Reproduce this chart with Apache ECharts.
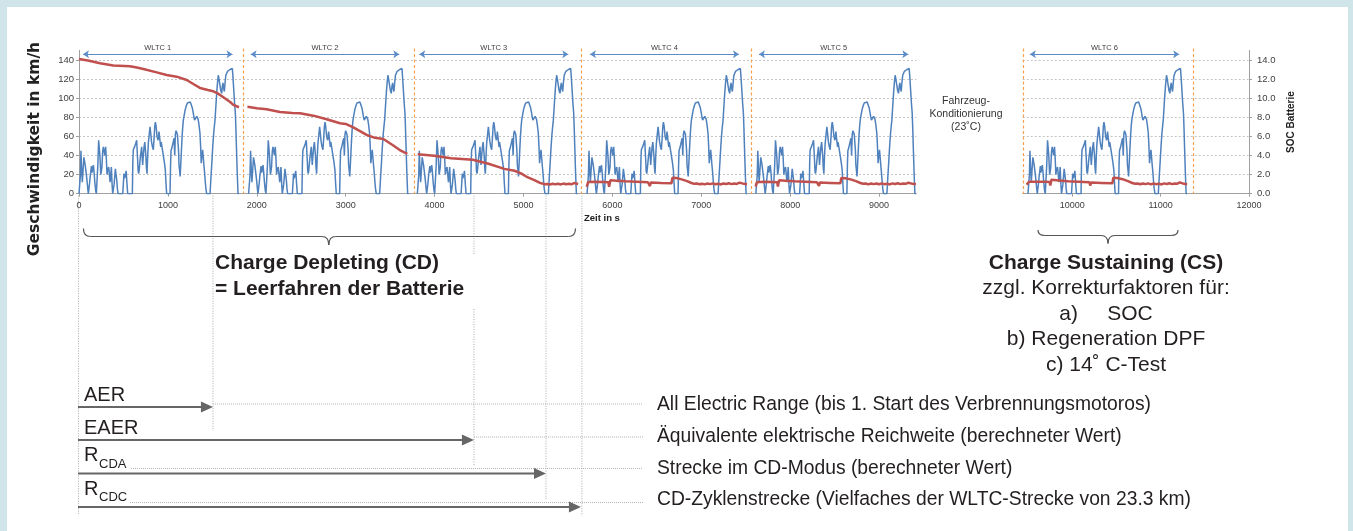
<!DOCTYPE html>
<html><head><meta charset="utf-8">
<script src="https://cdn.jsdelivr.net/npm/echarts@6/dist/echarts.min.js"></script>
<style>
html,body{margin:0;padding:0;background:#d0e5e9;width:1353px;height:531px;overflow:hidden;}
#bg{position:absolute;left:7px;top:7px;width:1341px;height:524px;background:#fff;}
#c{position:absolute;left:0;top:0;width:1353px;height:531px;}
</style></head><body><div id="bg"></div><div id="c"></div>
<script>
// ---------- DATA ----------
// one WLTC cycle: relative time (s) and speed (km/h)
const cycleTime = [0,11,16,22,28,37,44,55,62,70,80,90,100,105,112,118,126,140,146,152,162,170,178,188,195,206,212,221,228,235,245,252,258,266,274,280,290,300,308,315,322,334,342,350,357,364,372,379,388,395,402,409,417,425,432,439,492,500,506,512,518,524,530,540,548,600,606,611,618,625,636,649,655,660,665,671,677,682,690,698,705,710,716,722,732,740,745,752,758,765,772,780,790,799,806,815,824,836,846,852,859,865,870,878,889,895,900,908,919,925,930,940,950,960,971,978,986,1024,1030,1035,1045,1054,1062,1070,1077,1084,1092,1100,1107,1114,1120,1125,1132,1138,1144,1152,1160,1167,1174,1185,1195,1207,1219,1230,1241,1252,1262,1274,1286,1293,1300,1312,1324,1332,1340,1350,1361,1368,1375,1383,1391,1398,1405,1413,1421,1428,1436,1474,1485,1496,1505,1515,1522,1530,1540,1549,1558,1567,1575,1585,1595,1605,1612,1620,1628,1635,1643,1652,1660,1670,1685,1700,1715,1725,1732,1740,1750,1759,1765,1772,1780,1789,1800];
const cycleSpeed = [0,0,20,45,30,12,22,38,40,30,22,14,4,0,0,10,18,29,22,25,30,22,12,3,0,0,30,56,48,40,20,24,28,44,49,46,40,49,36,20,25,28,20,12,20,28,10,0,0,10,18,26,20,14,5,0,0,12,21,16,14,20,24,10,0,0,35,46,44,49,52,56,44,35,24,21,25,26,38,44,49,40,30,38,49,54,56,40,28,21,38,53,62,70,64,55,50,46,60,70,75,72,68,60,56,60,65,58,49,54,52,45,39,33,25,12,0,0,30,45,48,50,55,58,40,62,66,68,62,60,45,30,24,18,20,45,60,70,77,83,88,92,95,96.5,97,96,95,90,84,80,77,79,81,80,78,72,63,50,32,40,46,38,30,22,12,5,0,0,18,35,50,63,70,77,92,105,116,124,120,114,108,105,112,116,110,107,116,124,126,128,129,130,130.5,131,122,110,95,84,68,46,22,0,0];
const cycleStarts = [0, 1908, 3806, 5715, 7614, 9500];
const cycleBoundaries = [1850, 3763, 5646, 7559, 9445, 11365];
const wltcLabels = ['WLTC 1','WLTC 2','WLTC 3','WLTC 4','WLTC 5','WLTC 6'];
const wltcArrowFrom = [45, 1931, 3828, 5748, 7649, 9521];
const wltcArrowTo = [1727, 3603, 5504, 7424, 9329, 11210];

// battery state of charge (SOC) per cycle: [time s, SOC]
const socCD1 = [[0,14.1],[100,13.95],[236,13.65],[386,13.42],[574,13.35],[650,13.2],[724,13.05],[874,12.7],[986,12.42],[1099,12.25],[1211,11.9],[1300,11.4],[1361,11.07],[1450,10.85],[1511,10.72],[1560,10.5],[1624,10.1],[1700,9.6],[1736,9.3],[1800,9.05]];
const socCD2 = [[1895,9.1],[2000,8.95],[2111,8.84],[2261,8.55],[2400,8.45],[2486,8.43],[2636,8.17],[2786,7.8],[2936,7.37],[3000,7.3],[3086,6.95],[3236,6.15],[3330,5.85],[3424,5.73],[3536,5.05],[3620,4.5],[3694,4.16]];
const socCD3 = [[3810,4.12],[3997,3.97],[4185,3.72],[4429,3.55],[4597,3.16],[4785,2.6],[4900,2.4],[4972,2.12],[5050,1.7],[5122,1.42],[5180,1.15],[5235,1.0],[5270,1.02],[5300,0.96],[5330,1.05],[5360,0.98],[5390,1.04],[5420,0.97],[5450,1.06],[5480,0.99],[5510,1.04],[5540,0.98],[5570,1.12],[5615,1.02]];
const socCS4 = [[5712,0.72],[5727,1.22],[5800,1.25],[5900,1.23],[5955,1.2],[5963,0.72],[5977,1.4],[6050,1.36],[6150,1.3],[6270,1.26],[6400,1.2],[6423,0.8],[6432,1.17],[6550,1.13],[6665,1.1],[6675,1.66],[6720,1.64],[6780,1.5],[6840,1.32],[6890,1.12],[6920,1.03],[6950,1.06],[6980,0.99],[7010,1.05],[7040,0.98],[7070,1.06],[7100,1.0],[7130,1.08],[7160,0.99],[7190,1.05],[7220,0.97],[7250,1.07],[7280,1.01],[7310,1.09],[7340,1.0],[7370,1.06],[7400,1.02],[7430,1.16],[7450,1.05],[7480,1.03],[7515,1.0]];
const socCS5 = [[7611,0.75],[7626,1.2],[7700,1.25],[7800,1.23],[7855,1.2],[7862,0.75],[7876,1.42],[7950,1.36],[8050,1.3],[8170,1.26],[8300,1.2],[8325,0.82],[8333,1.16],[8450,1.13],[8565,1.1],[8575,1.64],[8620,1.62],[8680,1.5],[8740,1.32],[8790,1.12],[8820,1.04],[8850,1.07],[8880,0.98],[8910,1.06],[8940,1.0],[8970,1.07],[9000,0.99],[9030,1.08],[9060,1.0],[9090,1.05],[9120,0.97],[9150,1.08],[9180,1.02],[9210,1.09],[9240,1.0],[9270,1.06],[9300,1.03],[9330,1.15],[9350,1.04],[9380,1.03],[9415,0.99]];
const socCS6 = [[9484,0.95],[9500,1.0],[9512,1.25],[9600,1.26],[9700,1.24],[9745,1.22],[9752,0.85],[9765,1.45],[9850,1.38],[9950,1.3],[10070,1.26],[10195,1.2],[10205,0.85],[10213,1.16],[10330,1.13],[10455,1.1],[10465,1.68],[10510,1.65],[10570,1.52],[10630,1.32],[10680,1.12],[10710,1.04],[10740,1.07],[10770,0.99],[10800,1.06],[10830,1.0],[10860,1.08],[10890,0.98],[10920,1.06],[10950,1.0],[10980,1.05],[11010,0.97],[11040,1.08],[11070,1.02],[11100,1.1],[11130,1.0],[11160,1.06],[11190,1.04],[11215,1.18],[11235,1.05],[11265,1.03],[11300,1.0]];

// tick labels
const timeTicksLeft = [0,1000,2000,3000,4000,5000,6000,7000,8000,9000];
const timeTicksRight = [10000,11000,12000];
const speedTicks = [0,20,40,60,80,100,120,140];
const socTicks = [0,2,4,6,8,10,12,14];

// annotation texts / range markers
const rangeNames = ['AER','EAER','R','R'];
const rangeSubs = ['','','CDA','CDC'];
const rangeEnds = [1507, 4443, 5253, 5646];
const rangeTexts = ['All Electric Range (bis 1. Start des Verbrennungsmotoros)','Äquivalente elektrische Reichweite (berechneter Wert)','Strecke im CD-Modus (berechneter Wert)','CD-Zyklenstrecke (Vielfaches der WLTC-Strecke von 23.3 km)'];
const cdTexts = ['Charge Depleting (CD)','= Leerfahren der Batterie'];
const csTexts = ['Charge Sustaining (CS)','zzgl. Korrekturfaktoren für:','a)     SOC','b) Regeneration DPF','c) 14˚ C-Test'];
const condText = 'Fahrzeug-\nKonditionierung\n(23˚C)';
const cdBrace = [50, 5585, 2810];      // time s: from, to, tip
const csBrace = [9613, 11197, 10405];

// ---------- BUILD ----------
function speedData(list){
  const out=[];
  list.forEach((ci,k)=>{
    if(k>0) out.push([cycleStarts[ci]-1,'-']);
    for(let i=0;i<cycleTime.length;i++) out.push([cycleStarts[ci]+cycleTime[i], cycleSpeed[i]]);
  });
  return out;
}
function joinSeg(segs){
  const out=[];
  segs.forEach((s,k)=>{ if(k>0) out.push([s[0][0]-1,'-']); s.forEach(p=>out.push(p)); });
  return out;
}
const BLUE='#4f81bd', RED='#c0504d', ORANGE='#f7a04e', AX='#a0a0a0', TXT='#404040';
const FONT='Liberation Sans';
function arrowMarks(idx){
  return idx.map(i=>[{name:wltcLabels[i], coord:[wltcArrowFrom[i],146]},{coord:[wltcArrowTo[i],146]}]);
}

const chart = echarts.init(document.getElementById('c'));
const xAxisCommon = {
  type:'value',
  axisLine:{show:true,lineStyle:{color:AX,width:1}},
  axisTick:{show:true,length:3,lineStyle:{color:AX}},
  axisLabel:{fontSize:9,color:TXT,fontFamily:FONT,margin:7},
  splitLine:{show:false}
};
const gridSplit = {show:true,lineStyle:{color:'#c4c4c4',type:[2,2],width:1},showMaxLine:false,showMinLine:false};
const option = {
  animation:false,
  grid:[
    {left:79,top:50.4,width:837.4,height:143.3},
    {left:1022.7,top:50.4,width:226.3,height:143.3}
  ],
  xAxis:[
    Object.assign({},xAxisCommon,{gridIndex:0,min:0,max:9420,interval:1000,
      axisLabel:Object.assign({},xAxisCommon.axisLabel,{showMaxLabel:false,formatter:v=>timeTicksLeft.includes(v)?String(v):''})}),
    Object.assign({},xAxisCommon,{gridIndex:1,min:9440,max:12000,minInterval:1000,maxInterval:1000,
      axisLabel:Object.assign({},xAxisCommon.axisLabel,{showMinLabel:false,formatter:v=>timeTicksRight.includes(v)?String(v):''})})
  ],
  yAxis:[
    {type:'value',gridIndex:0,min:0,max:150,interval:20,position:'left',
     axisLine:{show:true,lineStyle:{color:AX}},axisTick:{show:true,length:3,lineStyle:{color:AX}},
     axisLabel:{fontSize:9.5,color:TXT,fontFamily:FONT,margin:5,showMaxLabel:false,formatter:v=>speedTicks.includes(v)?String(v):''},
     splitLine:gridSplit},
    {type:'value',gridIndex:0,min:0,max:15,position:'right',show:false},
    {type:'value',gridIndex:1,min:0,max:150,interval:20,position:'left',
     axisLine:{show:false},axisTick:{show:false},axisLabel:{show:false},splitLine:gridSplit},
    {type:'value',gridIndex:1,min:0,max:15,interval:2,position:'right',
     axisLine:{show:true,lineStyle:{color:AX}},axisTick:{show:true,length:3,lineStyle:{color:AX}},
     axisLabel:{fontSize:9.5,color:TXT,fontFamily:FONT,margin:8,showMaxLabel:false,formatter:v=>socTicks.includes(v)?v.toFixed(1):''},
     splitLine:{show:false},
     name:'SOC Batterie',nameLocation:'middle',nameGap:37,nameRotate:90,
     nameTextStyle:{fontSize:10,fontWeight:'bold',color:'#222',fontFamily:FONT}}
  ],
  series:[
    {type:'line',xAxisIndex:0,yAxisIndex:0,data:speedData([0,1,2,3,4]),showSymbol:false,symbol:'none',
     lineStyle:{color:BLUE,width:1.5},silent:true,z:2},
    {type:'line',xAxisIndex:0,yAxisIndex:0,data:[],silent:true,
     markLine:{silent:true,animation:false,symbol:['arrow','arrow'],symbolSize:6,
       lineStyle:{color:'#5b8cc8',type:'solid',width:1},
       label:{show:true,position:'insideMiddleTop',distance:2,formatter:'{b}',fontSize:7.5,color:TXT,fontFamily:FONT},
       data:arrowMarks([0,1,2,3,4])}},
    {type:'line',xAxisIndex:0,yAxisIndex:1,data:joinSeg([socCD1,socCD2,socCD3,socCS4,socCS5]),showSymbol:false,symbol:'none',
     lineStyle:{color:RED,width:2.5},silent:true,z:3},
    {type:'line',xAxisIndex:1,yAxisIndex:2,data:speedData([5]),showSymbol:false,symbol:'none',
     lineStyle:{color:BLUE,width:1.5},silent:true,z:2},
    {type:'line',xAxisIndex:1,yAxisIndex:2,data:[],silent:true,
     markLine:{silent:true,animation:false,symbol:['arrow','arrow'],symbolSize:6,
       lineStyle:{color:'#5b8cc8',type:'solid',width:1},
       label:{show:true,position:'insideMiddleTop',distance:2,formatter:'{b}',fontSize:7.5,color:TXT,fontFamily:FONT},
       data:arrowMarks([5])}},
    {type:'line',xAxisIndex:1,yAxisIndex:3,data:joinSeg([socCS6]),showSymbol:false,symbol:'none',
     lineStyle:{color:RED,width:2.5},silent:true,z:3}
  ]
};
chart.setOption(option);

// ---------- ANNOTATIONS (positioned through the axes) ----------
const X = v => chart.convertToPixel({xAxisIndex:0}, v);
const X2 = v => chart.convertToPixel({xAxisIndex:1}, v);
const Y0 = chart.convertToPixel({yAxisIndex:0}, 0);
const YTOP = chart.convertToPixel({yAxisIndex:0}, 152);
const g = [];
function txt(x,y,text,size,opts){
  opts=opts||{};
  g.push({type:'text',x:x,y:y,rotation:opts.rot||0,silent:true,z:10,
    style:{text:text,fill:opts.color||'#2a2a2a',fontSize:size,fontFamily:opts.family||FONT,fontWeight:opts.bold?'bold':'normal',
      textAlign:opts.align||'left',textVerticalAlign:'middle',align:opts.align||'left',verticalAlign:'middle',
      lineHeight:opts.lh||undefined}});
}
function line(x1,y1,x2,y2,stroke,w,dash,z){
  g.push({type:'line',silent:true,z:z||5,shape:{x1:x1,y1:y1,x2:x2,y2:y2},style:{stroke:stroke,lineWidth:w,lineDash:dash||null}});
}
function brace(x1,x2,xt,yTop,yMid,yTip){
  const r=7, st={stroke:'#555',lineWidth:1.2,fill:null};
  const bz=(a,b,c,d,e,f)=>g.push({type:'bezierCurve',silent:true,z:5,shape:{x1:a,y1:b,cpx1:c,cpy1:d,x2:e,y2:f},style:st});
  bz(x1,yTop,x1,yMid,x1+r,yMid);
  line(x1+r,yMid,xt-r,yMid,'#555',1.2);
  bz(xt-r,yMid,xt,yMid,xt,yTip);
  bz(xt,yTip,xt,yMid,xt+r,yMid);
  line(xt+r,yMid,x2-r,yMid,'#555',1.2);
  bz(x2-r,yMid,x2,yMid,x2,yTop);
}
// cycle boundaries (orange dashed)
cycleBoundaries.forEach((b,i)=>{
  const px = i<4 ? X(b) : X2(b);
  line(Math.round(px)+0.5,YTOP,Math.round(px)+0.5,Y0,ORANGE,1.2,[3,2.5],1);
});
// axis titles
txt(35,149,'Geschwindigkeit in km/h',15.5,{bold:true,align:'center',rot:Math.PI/2,color:'#222',family:'DejaVu Sans'});
txt(584,218,'Zeit in s',9.5,{bold:true,color:'#222'});
txt(966,114,condText,10.5,{align:'center',color:'#333',lh:13});

// vertical dotted guides from the axis
const VD=[1,1.5], VC='#a8a8a8';
line(X(0)-0.5,Y0+2,X(0)-0.5,514,VC,1,VD);
line(X(rangeEnds[0]),Y0+2,X(rangeEnds[0]),431,VC,1,VD);
line(X(rangeEnds[1]),Y0+2,X(rangeEnds[1]),254,VC,1,VD);
line(X(rangeEnds[1]),309,X(rangeEnds[1]),466,VC,1,VD);
line(X(rangeEnds[2]),Y0+2,X(rangeEnds[2]),499,VC,1,VD);
line(X(rangeEnds[3])+1,Y0+2,X(rangeEnds[3])+1,516,VC,1,VD);

// braces
brace(X(cdBrace[0]),X(cdBrace[1]),X(cdBrace[2]),228.5,236.5,245);
brace(X2(csBrace[0]),X2(csBrace[1]),X2(csBrace[2]),230,235.5,243.5);

// CD / CS texts
txt(215,263,cdTexts[0],21,{bold:true,color:'#231f20'});
txt(215,289,cdTexts[1],21,{bold:true,color:'#231f20'});
const csY=[263,288.5,314,339.5,365];
csTexts.forEach((t,i)=>txt(1106,csY[i],t,21,{bold:i===0,align:'center',color:'#231f20'}));

// range arrows
const rowY=[407,440,473.5,507];
const connY=[404,437,468.5,502.5];
const connStart=[X(rangeEnds[0]),X(rangeEnds[1]),131,130];
const descY=[405,437,469,500];
rangeEnds.forEach((e,i)=>{
  const x0=X(0)-1, x1=X(e);
  line(connStart[i],connY[i],643,connY[i],'#b4b4b4',1,[1,1]);
  line(x0,rowY[i],x1-10,rowY[i],'#666',2.2);
  g.push({type:'polygon',silent:true,z:6,shape:{points:[[x1,rowY[i]],[x1-12,rowY[i]-5.5],[x1-12,rowY[i]+5.5]]},style:{fill:'#666'}});
  if(rangeSubs[i]){
    txt(84,rowY[i]-18,rangeNames[i],20,{color:'#231f20'});
    txt(99,rowY[i]-9.5,rangeSubs[i],13,{color:'#231f20'});
  } else {
    txt(84,rowY[i]-12,rangeNames[i],20,{color:'#231f20'});
  }
  txt(657,descY[i],rangeTexts[i],19.3,{color:'#231f20'});
});
chart.setOption({graphic:g});
</script></body></html>
